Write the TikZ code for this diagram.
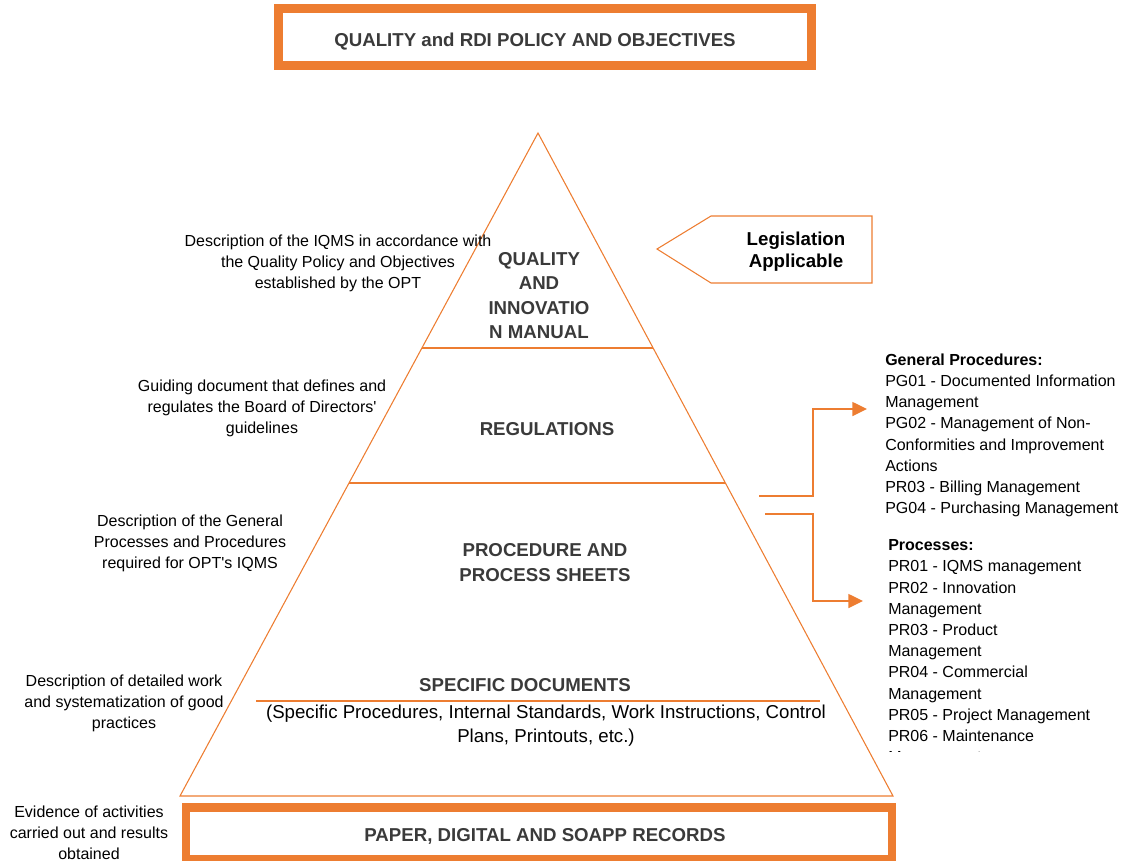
\documentclass[tikz,border=0pt]{standalone}
\usepackage{fontspec}
\setmainfont{Liberation Sans}
\usetikzlibrary{calc,arrows.meta,positioning}
\definecolor{qorange}{HTML}{ED7D31}
\definecolor{qgrey}{HTML}{3A3A3A}

\tikzset{
  frame/.style={draw=qorange,line width=6.4pt,inner sep=0pt},
  title/.style={font=\fontsize{14}{18.2}\selectfont\bfseries,text=qgrey,align=center,inner sep=0pt},
  note/.style={font=\fontsize{12}{15.75}\selectfont,align=center,inner sep=0pt},
  list/.style={font=\fontsize{12}{15.9}\selectfont,align=left,anchor=north west,inner sep=0pt},
  side/.style={draw=qorange,line width=0.8pt},
  tier/.style={draw=qorange,line width=1.3pt},
  link/.style={draw=qorange,line width=1.1pt,-{Triangle[length=11pt,width=10.5pt]}}
}

\begin{document}
\begin{tikzpicture}[x=0.75pt,y=-0.75pt]
\useasboundingbox (0,0) rectangle (1129,861);

% top and bottom frames
\node [frame,minimum width=399.75pt,minimum height=42.75pt] (policybox) at (545,37) {};
\node [title] (policy) at (535,42) {QUALITY and RDI POLICY AND OBJECTIVES};
\node [frame,minimum width=529.5pt,minimum height=39pt] (recordbox) at (539,833.5) {};
\node [title] (records) at (545,836) {PAPER, DIGITAL AND SOAPP RECORDS};

% pyramid
\coordinate (apex) at (538,133);
\coordinate (bl) at (180,796);
\coordinate (br) at (893,796);
\draw [side] (apex) -- (br) -- (bl) -- cycle;
\draw [tier] ($(apex)!0.3243!(bl)$) -- ($(apex)!0.3243!(br)$);
\draw [tier] ($(apex)!0.528!(bl)$) -- ($(apex)!0.528!(br)$);
\draw [tier] (256,701) -- (820,701);

\node [title] (manual) at (539,295.5) {QUALITY\\AND\\INNOVATIO\\N MANUAL};
\node [title] (regs) at (547,429.5) {REGULATIONS};
\node [title,font=\fontsize{14}{18.8}\selectfont\bfseries] (sheets) at (545,562.5) {PROCEDURE AND\\PROCESS SHEETS};
\node [title] (specific) at (525,685.5) {SPECIFIC DOCUMENTS};
\node [note,font=\fontsize{14}{18}\selectfont] (examples) at (546,725.5)
  {(Specific Procedures, Internal Standards, Work Instructions, Control\\Plans, Printouts, etc.)};

% legislation tag
\draw [side] (657,249) -- (711,216) -- (872,216) -- (872,283) -- (711,283) -- cycle;
\node [title,text=black,font=\fontsize{14}{16.5}\selectfont\bfseries] (law) at (796,251.5) {Legislation\\Applicable};

% descriptions on the left
\def\notes{1/338/263.5/{Description of the IQMS in accordance with\\the Quality Policy and Objectives\\established by the OPT},
  2/262/408.5/{Guiding document that defines and\\regulates the Board of Directors\textquotesingle\\guidelines},
  3/190/543/{Description of the General\\Processes and Procedures\\required for OPT\textquotesingle s IQMS},
  4/124/703.5/{Description of detailed work\\and systematization of good\\practices},
  5/89/832.5/{Evidence of activities\\carried out and results\\obtained}}
\foreach \i/\x/\y/\element in \notes
  \node [note] (note\i) at (\x,\y) {\element};

% lists on the right
\node [list] (general) at (885,353.5) {\textbf{General Procedures:}\\PG01 - Documented Information\\Management\\PG02 - Management of Non-\\Conformities and Improvement\\Actions\\PR03 - Billing Management\\PG04 - Purchasing Management};
\begin{scope}
\clip (860,530) rectangle (1129,751);
\node [list] (processes) at (888,539.5) {\textbf{Processes:}\\PR01 - IQMS management\\PR02 - Innovation\\Management\\PR03 - Product\\Management\\PR04 - Commercial\\Management\\PR05 - Project Management\\PR06 - Maintenance\\Management};
\end{scope}

\coordinate (gpfrom) at (759,496);
\coordinate (gpto) at (867,409);
\coordinate (prfrom) at (765,514);
\coordinate (prto) at (863,601);
\draw [link] (gpfrom) -- ++(54,0) |- (gpto);
\draw [link] (prfrom) -- ++(48,0) |- (prto);

\end{tikzpicture}
\end{document}
